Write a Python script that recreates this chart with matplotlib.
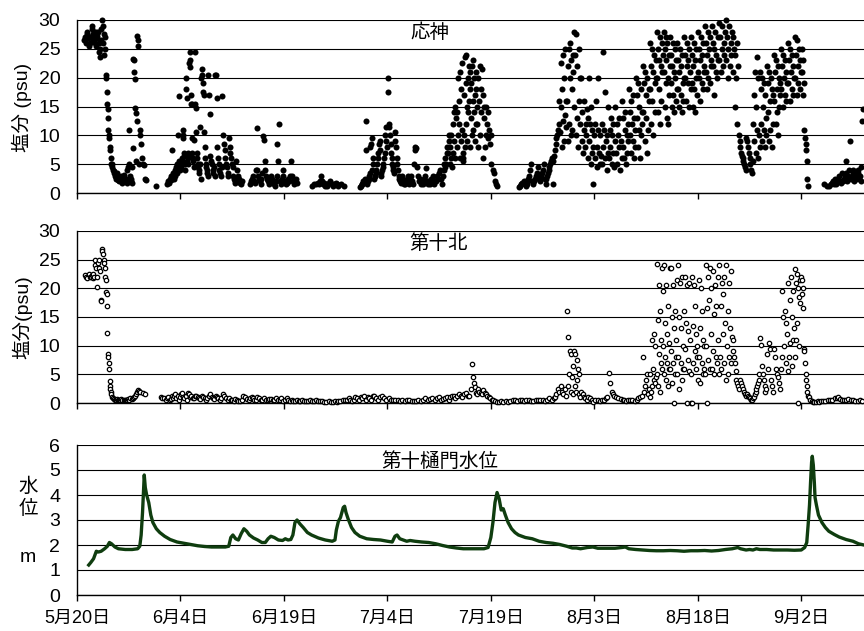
import numpy as np
import matplotlib
matplotlib.use("Agg")
import matplotlib.pyplot as plt

plt.rcParams["font.family"] = ["Liberation Sans", "Noto Sans CJK JP"]

# days counted from 5/20
tick_days = [0, 15, 30, 45, 60, 75, 90, 105]
tick_labels = ["5月20日", "6月4日", "6月19日", "7月4日", "7月19日", "8月3日", "8月18日", "9月2日"]

# 応神 salinity, grouped by day
oujin_day = [1, 2, 3, 4, 5, 6, 7, 8, 9, 11, 13, 14, 15, 16, 17, 18, 19, 20, 21, 22, 23,
             25, 26, 27, 28, 29, 30, 31, 34, 35, 36, 37, 38, 41, 42, 43, 44, 45, 46, 47,
             48, 49, 50, 51, 52, 53, 54, 55, 56, 57, 58, 59, 60, 64, 65, 66, 67, 68, 69,
             70, 71, 72, 73, 74, 75, 76, 77, 78, 79, 80, 81, 82, 83, 84, 85, 86, 87, 88,
             89, 90, 91, 92, 93, 94, 95, 96, 97, 98, 99, 100, 101, 102, 103, 104, 105,
             108, 109, 110, 111, 112, 113]
oujin_psu = [
    [26.5, 27, 26, 27.5, 28, 26.8, 25.5, 27, 26],
    [27, 28.5, 29, 27.5, 26.5, 28, 27, 26, 25.5, 28, 27.2, 26.8],
    [28, 26, 24.5, 23.5, 25, 26.5, 28.5, 30, 29, 26, 24, 27.5],
    [27, 25, 20.5, 20, 17.5, 15.5, 14.5, 13, 11, 10, 9.5, 8, 7.5, 6, 5],
    [5, 4.5, 4, 3.8, 3.5, 3, 2.8, 2.5, 3, 3.5, 2.2],
    [2.5, 2, 2.3, 3, 2, 1.8, 2.5, 2.2, 3.2, 2],
    [2, 2.5, 1.8, 4, 4.5, 5, 11, 3, 2.5, 2, 1.8],
    [4.5, 7.8, 23.2, 23, 21, 19.7, 14.8, 13.8, 5.5, 12.5, 27.3, 26.5, 25.5, 5],
    [11, 10, 8.5, 6, 5, 4.8, 2.5, 2.2],
    [1.2],
    [1.5, 2, 1.8, 2.5, 3, 2.2, 7.5, 3.5],
    [2.5, 3, 4, 4.5, 3.5, 5, 10, 16.8, 5.5, 4],
    [4.5, 5, 6, 5.5, 10, 11, 9.5, 6.5, 7, 5, 4, 20, 18, 16.5, 5.5],
    [5, 6, 7, 6.5, 22.5, 24.5, 23, 21.8, 15.5, 17, 15.5, 9.5, 7, 6, 5.5, 4.5, 9.2],
    [24.5, 15.5, 14.8, 10.5, 7, 6, 5, 4.5, 4, 3.5, 11.5, 5, 2.5],
    [20, 20.5, 21.5, 19, 17.5, 17, 10.5, 8, 6, 5, 4.5, 4, 3.5, 3],
    [20.5, 17, 13.7, 6.5, 5.5, 5, 4, 3.5, 4.5, 3],
    [20.5, 20.5, 16.5, 8, 6, 5, 4, 3.5, 3, 4.5],
    [16.8, 10, 8.5, 7.5, 6, 5, 4.5, 3.5, 3],
    [9.5, 8, 7, 6, 5, 4.5, 3, 2.5, 2, 1.8],
    [5.5, 4, 3, 2.5, 2, 1.8, 1.5, 2],
    [1.5, 2, 2.5, 3, 2, 1.8, 4],
    [11.3, 4, 3, 2.5, 2, 1.5, 2.5, 3.5, 9.8],
    [9.2, 5.5, 4, 3, 2.5, 2, 1.5, 2],
    [3, 2.5, 2, 1.5, 1.2, 2, 3],
    [8.5, 5.5, 12, 2, 1.5, 2.5, 3, 4],
    [2, 1.5, 1.8, 2.5, 2, 3],
    [5.5, 3, 2, 1.5, 2, 2.5, 1.8],
    [1.2, 1.5, 1.5, 1.8],
    [1.5, 2, 3, 2, 1.5, 1.8, 1.2],
    [1.5, 1.2, 1.8, 2, 1.5],
    [1.2, 1.5, 1.8, 1.5, 1.2],
    [1.5, 1.2],
    [1, 1.2, 1.5, 1.5, 2, 2, 2.5, 12.5, 7.5],
    [1.5, 2, 2.5, 2.5, 3, 3.5, 8, 8.5, 9.5, 4, 5, 6],
    [2.5, 3, 3, 3.5, 4, 5, 6, 7, 8.5, 9, 7.5],
    [3, 3.5, 4, 4.5, 5, 6, 7, 10, 11.5, 9, 8],
    [20, 17.5, 12, 11.5, 10, 8.5, 7, 6, 5, 4.5, 4, 3.5],
    [10.5, 9, 8, 6, 5, 4, 3, 2.5, 2, 1.8],
    [3, 2.5, 2, 1.5, 1.5, 2, 2.5, 3],
    [2, 1.5, 2.5, 3, 2, 1.5, 5, 7.5],
    [8, 7.8, 4.5, 3, 2, 2.5, 1.5, 2],
    [2, 1.5, 2.5, 3, 4.3, 2, 1.5],
    [2, 1.5, 2.5, 2, 3, 1.5, 2],
    [2, 3, 2.5, 3.5, 4, 2.5, 1.5],
    [3, 4, 5, 4.5, 6, 5, 7, 8, 7, 9, 10],
    [5, 8, 6, 10, 4.5, 12, 7, 14, 9, 15, 6, 13],
    [8, 14, 10, 20, 12, 16, 6, 21, 9, 18, 11, 22.5, 5.5, 7],
    [6, 17, 10, 23.5, 8, 19, 12, 24, 9, 15, 20, 14, 22, 16, 21, 18],
    [8, 19, 13, 22, 10, 16, 23, 11, 20, 14, 9, 17, 21, 12, 18, 15],
    [12, 20, 8, 16, 22, 10, 18, 14, 21.5, 6, 17, 15],
    [13, 8, 15, 10, 12, 14, 9.5, 11, 8.5, 10],
    [5, 4, 3.5, 2, 1.5, 1.2],
    [1, 1.2, 1.5, 1.8, 2, 1.5],
    [1.2, 1.5, 2, 2.5, 3, 4, 5, 2],
    [1.5, 2, 2.5, 3, 3.5, 4.5, 3],
    [2, 2.5, 3, 3.5, 4, 5, 2.5, 1.5],
    [2.5, 3, 3.5, 4, 4.5, 5, 5.5, 6, 1.5],
    [5.5, 6.5, 7.5, 8.5, 9.5, 10, 11, 12, 16],
    [10.5, 15, 22.5, 8, 18, 12.5, 24, 9, 20, 13.5, 25, 11.5, 16],
    [16, 22, 9, 25, 12, 20, 26, 10, 23, 18, 11, 21, 24],
    [28, 15, 24, 10, 27.5, 13, 22, 8, 25, 16, 12, 20],
    [20, 9, 14, 7, 16, 11, 8, 12, 10, 14.5],
    [13, 6, 20, 9, 12, 5, 15, 7, 11, 1.5, 8, 10],
    [12, 6, 16, 8, 4.5, 11, 20, 7, 10, 5, 6.5],
    [12, 5, 24.5, 8, 11, 6, 17.5, 9, 4, 10, 7],
    [15, 6, 11, 8, 13, 5, 10, 7, 12, 4.5, 9],
    [15, 7, 12, 5, 10, 8, 13, 4, 9, 6],
    [16, 8, 13, 6, 11, 14, 5, 10, 7, 12, 9],
    [18, 10, 14, 7, 16, 12, 9, 17, 6, 13, 8, 11],
    [20, 13, 17, 8, 19, 11, 15, 6, 18, 10, 14, 12],
    [22, 14, 19, 9, 21, 13, 17, 7, 20, 11, 16, 18],
    [26, 18, 22, 12, 25, 16, 21, 10, 24, 19, 14, 23, 20],
    [28, 20, 25, 14, 23, 18, 27, 12, 22, 16, 26, 21, 24],
    [28, 21, 25, 15, 27, 19, 23, 13, 26, 20, 12, 24, 17, 22],
    [27, 19, 24, 15, 22, 26, 17, 21, 14, 25, 20, 16, 23, 18],
    [26, 18, 23, 15, 21, 25, 17, 22, 14, 24, 19, 16, 20],
    [27, 20, 24, 16, 22, 26, 19, 23, 15, 25, 21, 18],
    [27, 19, 24, 15, 22, 26, 18, 23, 14, 25, 20, 17, 21],
    [28, 20, 25, 16, 23, 27, 19, 24, 18, 26, 21, 22],
    [29, 21, 26, 18, 24, 28, 20, 25, 19, 27, 22, 23],
    [29, 22, 26, 17, 25, 28, 21, 24, 20, 27, 23],
    [29.5, 23, 27, 21, 25, 29, 22, 26, 24, 28],
    [30, 23, 27, 20, 25, 29, 22, 26, 24, 28],
    [27, 21, 25, 15, 24, 20, 26, 12, 22, 10],
    [9, 8, 7, 6.5, 6, 5.5, 5, 4.5, 4],
    [9.5, 9, 8, 7, 6, 5, 4, 3.5, 5.5],
    [12, 17, 9, 21, 7, 15, 11, 23.5, 6, 20, 10, 8],
    [21, 12, 18, 9, 20, 15, 11, 19, 8, 17, 13, 10],
    [22, 14, 19, 9, 21, 16, 11, 20, 8, 18, 12, 17],
    [24, 16, 21, 12, 23, 18, 14, 22, 10, 20, 15, 19, 17],
    [25, 18, 22, 15, 24, 20, 17, 23, 16, 21, 19],
    [26, 19, 23, 16, 25, 21, 18, 24, 17, 22, 20],
    [27, 20, 24, 17, 26.5, 22, 19, 25, 18, 23, 21],
    [25, 21, 23, 17, 19, 11, 9.5, 8.5, 7.5, 5.5, 2.5, 1.3],
    [1.5, 1.2],
    [1.2, 1.5, 1.8, 2, 1.5, 2.5],
    [1.5, 2, 2.5, 3, 2, 1.8, 3.5],
    [2, 2.5, 3, 3.5, 5.5, 2, 3, 4],
    [9, 2.5, 3, 3.5, 4, 2, 3, 2.5],
    [3, 3.5, 4, 2.5, 3, 4.5, 2, 12.5, 14.5],
]

# 第十北 salinity, grouped by day
daiju_day = [1, 2, 3, 4, 5, 6, 7, 8, 9] + list(range(12, 114))
daiju_psu = [
    [22.3, 22, 21.8, 22.5, 22],
    [22, 22.3, 22.5, 21.8, 22, 25, 24, 23.5, 22, 20.3],
    [24.5, 25, 23.5, 23, 18, 17.8, 26.8, 26.5, 26, 25, 24.5],
    [23.5, 22, 21.5, 19.3, 19, 17, 12.2, 8.5, 8, 7, 6, 3.8, 3, 2.5, 2, 1.5],
    [1, 0.8, 0.7, 0.6, 0.5, 0.7, 0.6],
    [0.5, 0.6, 0.7, 0.5, 0.6, 0.5],
    [0.6, 0.5, 0.7, 0.6, 0.8, 0.7],
    [0.8, 0.9, 1, 1.2, 1.5, 2, 2.3, 2.1],
    [2, 1.8, 1.6],
    [1, 0.8, 0.9, 0.6],                 # 12
    [0.8, 1, 0.5, 0.7, 1.2, 0.9],
    [1.2, 1.5, 0.8, 1.3, 0.6, 1],
    [1.5, 1.8, 1, 0.8, 1.2, 0.6],
    [1.8, 1.5, 1, 1.2, 0.8, 0.9],
    [1.2, 1.3, 1, 0.8, 0.7],
    [1.2, 1, 0.8, 0.6, 0.9],
    [1.3, 1.5, 1, 0.8, 0.7],
    [1.2, 1, 0.8, 0.6, 0.9],            # 20
    [1.5, 1.2, 0.8, 0.6],
    [0.8, 0.6, 0.5, 0.4, 0.7],
    [0.5, 0.4, 0.3, 0.6],
    [1.2, 1, 0.7, 0.5],
    [0.9, 1, 0.8, 0.6, 0.5],
    [1, 0.8, 0.6, 0.5],
    [0.8, 0.6, 0.5, 0.7],
    [0.7, 0.6, 0.5, 0.8],
    [0.6, 0.5, 0.8, 0.4],
    [0.5, 0.8, 0.6, 0.4],               # 30
    [0.6, 0.4, 0.3, 0.5],
    [0.3, 0.4, 0.5, 0.3],
    [0.4, 0.3, 0.5],
    [0.3, 0.4, 0.5, 0.3],
    [0.4, 0.3, 0.2],
    [0.2, 0.3, 0.2],
    [0.2, 0.3, 0.2, 0.3],
    [0.3, 0.5, 0.6],
    [0.5, 0.8, 0.6, 0.4],
    [0.6, 1, 0.8, 0.5],                 # 40
    [1, 0.8, 1.2, 0.6],
    [1.1, 0.9, 0.6, 1.3],
    [1.3, 0.8, 0.5, 1],
    [1.2, 0.9, 0.6],
    [0.8, 0.6, 0.5],
    [0.6, 0.5, 0.4],
    [0.5, 0.4, 0.6],
    [0.5, 0.3, 0.4],
    [0.4, 0.6, 0.3],
    [0.5, 0.8, 0.6],                    # 50
    [0.7, 0.9, 0.5],
    [0.8, 1, 0.6],
    [0.7, 0.8, 1, 0.6],
    [1, 1.2, 1.3, 0.8],
    [1.2, 1.5, 1.3, 1],
    [1.5, 1.8, 1.3, 1.2],
    [2.5, 6.8, 4.5, 3.5, 2.8, 1.8, 1.5],
    [2.5, 2, 1.8, 1.5, 2.2],
    [1.8, 1.5, 1.2, 1, 0.8],
    [0.6, 0.5, 0.3, 0.2],               # 60
    [0.2, 0.3, 0.2],
    [0.3, 0.2, 0.4],
    [0.5, 0.6, 0.4],
    [0.6, 0.5, 0.4],
    [0.5, 0.6, 0.4],
    [0.4, 0.5, 0.6],
    [0.5, 0.6, 0.4],
    [0.6, 0.8, 0.5],
    [0.8, 1, 1.5, 2.5, 2],
    [3, 2, 1.5, 2.5, 1.2],              # 70
    [16, 3, 11.5, 5, 9, 2, 8.5, 4.5, 6.5, 1.5],
    [9, 3, 8.5, 2, 7.5, 4, 6, 1.5, 5, 1],
    [2, 1.5, 1, 0.8, 0.6],
    [1, 0.8, 0.5, 0.2],
    [0.6, 0.5, 0.4],
    [0.5, 0.6, 0.8, 1],
    [5.3, 3.5, 2, 1.5, 1.2],
    [1, 0.8, 0.7],
    [0.6, 0.5, 0.4, 0.5],
    [0.5, 0.6, 0.4],                    # 80
    [0.6, 0.8, 1, 1.2],
    [8, 2, 3, 4, 5, 1.5, 2.5],
    [1, 5, 2, 11, 3, 6, 4, 12, 3.5, 10, 4.5],
    [24.3, 5, 14.5, 3, 20.5, 8.5, 2, 16, 7, 11, 6, 23.5, 10, 19.5],
    [5, 24, 8, 14, 4, 20.5, 7, 12, 3, 17, 6, 10.5, 23.5],
    [6, 23.5, 9, 15, 3.5, 20.5, 7, 13, 0, 16, 5, 11, 8, 21.5],
    [5, 24, 8, 15, 2.5, 21, 7, 13, 4, 22, 6, 10, 16],
    [6, 22, 9.5, 14, 0, 20.5, 7.5, 12.5, 5.5, 21, 11, 0],
    [5, 22, 0, 13.5, 7, 20.5, 9, 17, 6, 12, 10, 8],
    [4, 21.5, 8, 13, 3.5, 20, 7, 16, 5, 11, 10, 6],   # 90
    [5, 24, 10, 16.5, 0, 22, 7.5, 18, 6, 23.5, 12, 20],
    [6, 23, 9, 15.5, 5, 20.5, 8, 17, 7, 22, 11],
    [5, 24, 8, 17, 6, 21, 12, 19, 7, 22, 14],
    [4, 24, 10, 16, 5, 21, 8, 13, 7, 23, 11.5],
    [11, 9, 8, 7, 5.5, 4, 3.5, 3, 2.5],
    [4, 3.5, 3, 2.5, 2, 1.5, 1.2],
    [1.5, 1.2, 1, 0.8, 0.6, 0.5],
    [0.8, 1, 1.5, 2, 2.5, 3, 3.5, 4, 5],
    [11.4, 10.2, 6.5, 5, 4, 3, 2, 2.5],
    [8.5, 6, 10.5, 9.5, 4, 3, 2],       # 100
    [9.5, 8, 6, 5, 4.5, 3.5, 2.5],
    [6, 19.5, 8, 15, 10, 16, 7, 14, 12],
    [5.5, 21, 8, 18, 10.5, 22, 6.5, 15, 11, 19.5, 13],
    [8, 23.3, 11, 21, 14, 22.5, 0, 20, 10, 18.5, 17.5, 21.5, 22],
    [21.5, 19, 20, 16.5, 9.5, 9, 7, 5, 4, 3, 2, 1.2],
    [1, 0.5, 0.3, 0.2, 0.2],
    [0.2, 0.3, 0.2, 0.3],
    [0.3, 0.4, 0.5],
    [0.5, 0.6, 0.8],
    [0.8, 1, 0.7, 0.6],                 # 110
    [0.6, 0.5, 0.7],
    [0.5, 0.6, 0.4],
    [0.4, 0.5, 0.3],
]

# 第十樋門 water level (m)
level_day = [1.7, 2.0, 2.4, 2.8, 3.1, 3.5, 4.0, 4.4, 4.7, 5.0, 5.5, 6.0, 7.0, 8.0, 8.8,
             9.1, 9.3, 9.5, 9.65, 9.75, 9.9, 10.1, 10.4, 10.7, 11.0, 11.5, 12.0, 12.7,
             13.5, 14.5, 15.5, 16.5, 17.5, 18.5, 19.5, 20.5, 21.5, 22.0, 22.3, 22.6,
             23.0, 23.4, 23.8, 24.2, 24.6, 25.0, 25.6, 26.2, 26.8, 27.3, 27.7, 28.1,
             28.6, 29.2, 29.8, 30.2, 30.6, 31.0, 31.3, 31.6, 31.9, 32.3, 32.8, 33.4,
             34.0, 35.0, 36.0, 37.0, 37.4, 37.6, 37.9, 38.2, 38.6, 38.8, 39.0, 39.3,
             39.8, 40.3, 41.0, 42.0, 43.0, 44.0, 45.0, 45.7, 46.1, 46.4, 46.8, 47.3,
             47.8, 48.3, 49.0, 50.0, 51.0, 52.0, 53.0, 54.0, 55.0, 56.0, 57.0, 58.0,
             59.0, 59.6, 60.0, 60.3, 60.6, 60.9, 61.2, 61.5, 61.8, 62.1, 62.5, 63.0,
             63.5, 64.0, 65.0, 66.0, 67.0, 68.0, 69.0, 70.0, 71.0, 71.8, 72.4, 73.0,
             74.0, 74.8, 75.5, 76.5, 77.2, 78.0, 79.0, 79.5, 80.0, 81.0, 82.0, 83.0,
             84.0, 85.0, 86.0, 87.0, 88.0, 89.0, 90.0, 91.0, 92.0, 93.0, 94.0, 95.0,
             95.8, 96.2, 97.0, 97.5, 98.0, 98.5, 99.0, 100.0, 101.0, 102.0, 103.0,
             104.0, 105.0, 105.5, 105.8, 106.0, 106.2, 106.35, 106.5, 106.6, 106.75,
             106.9, 107.0, 107.2, 107.5, 108.0, 108.5, 109.0, 109.8, 110.5, 111.5,
             112.5, 113.3, 114.1]
level_m = [1.2, 1.3, 1.45, 1.75, 1.72, 1.75, 1.85, 1.95, 2.1, 2.05, 1.92, 1.85, 1.82,
           1.82, 1.85, 1.95, 2.4, 3.3, 4.2, 4.8, 4.3, 4.0, 3.7, 3.2, 2.9, 2.65, 2.5,
           2.35, 2.22, 2.12, 2.07, 2.02, 1.97, 1.94, 1.92, 1.92, 1.92, 1.95, 2.3, 2.4,
           2.25, 2.2, 2.45, 2.65, 2.55, 2.4, 2.28, 2.2, 2.1, 2.1, 2.25, 2.35, 2.3, 2.2,
           2.18, 2.25, 2.2, 2.22, 2.4, 2.9, 3.0, 2.85, 2.7, 2.5, 2.4, 2.28, 2.2, 2.15,
           2.2, 2.6, 2.95, 3.1, 3.5, 3.55, 3.3, 3.05, 2.7, 2.5, 2.35, 2.25, 2.22, 2.2,
           2.15, 2.12, 2.35, 2.4, 2.25, 2.2, 2.15, 2.18, 2.15, 2.12, 2.1, 2.05, 1.98,
           1.92, 1.88, 1.85, 1.85, 1.85, 1.85, 1.9, 2.3, 2.9, 3.7, 4.1, 3.85, 3.4, 3.45,
           3.2, 2.9, 2.65, 2.5, 2.4, 2.3, 2.25, 2.15, 2.1, 2.07, 2.02, 1.95, 1.88, 1.88,
           1.85, 1.9, 1.92, 1.87, 1.87, 1.87, 1.87, 1.9, 1.92, 1.85, 1.82, 1.8, 1.78,
           1.77, 1.77, 1.78, 1.77, 1.75, 1.77, 1.77, 1.78, 1.76, 1.78, 1.82, 1.85, 1.9,
           1.85, 1.8, 1.82, 1.8, 1.85, 1.82, 1.82, 1.8, 1.8, 1.8, 1.79, 1.8, 1.9, 2.1,
           2.8, 3.6, 4.5, 5.3, 5.55, 5.2, 4.5, 3.9, 3.6, 3.2, 2.9, 2.7, 2.55, 2.42, 2.32,
           2.22, 2.15, 2.05, 2.0]

X_MAX = 114.1
FS = 14


def spread(days, groups):
    # put each day's readings at equal steps through that day
    t, v = [], []
    for d, vals in zip(days, groups):
        n = len(vals)
        for k, val in enumerate(vals):
            t.append(d + (k + 0.5) / n)
            v.append(val)
    return np.array(t), np.array(v)


def style_axis(ax, ymax, ystep, show_labels):
    ax.set_xlim(0, X_MAX)
    ax.set_ylim(0, ymax)
    ax.set_yticks(np.arange(0, ymax + 0.01, ystep))
    ax.yaxis.grid(True, color="black", linewidth=0.8)
    ax.set_axisbelow(True)
    for side in ["top", "right"]:
        ax.spines[side].set_visible(False)
    for side in ["left", "bottom"]:
        ax.spines[side].set_color("black")
        ax.spines[side].set_linewidth(1.0)
    ax.set_xticks(tick_days)
    if show_labels:
        ax.set_xticklabels(tick_labels)
    else:
        ax.set_xticklabels([])
    ax.tick_params(axis="x", direction="out", length=4, width=1, pad=7, labelsize=13)
    ax.tick_params(axis="y", length=0, pad=12, labelsize=FS)


fig = plt.figure(figsize=(8.64, 6.31), dpi=100)
left = 77 / 864
width = 1 - left

ax1 = fig.add_axes([left, 1 - 193 / 631, width, 173 / 631])
ax2 = fig.add_axes([left, 1 - 403 / 631, width, 172 / 631])
ax3 = fig.add_axes([left, 1 - 595 / 631, width, 150 / 631])

t1, s1 = spread(oujin_day, oujin_psu)
ax1.scatter(t1, s1, s=19, color="black", linewidths=0, zorder=3, clip_on=False)
style_axis(ax1, 30, 5, False)
ax1.text(0.449, 0.925, "応神", transform=ax1.transAxes, ha="center", va="center", fontsize=FS)

t2, s2 = spread(daiju_day, daiju_psu)
ax2.scatter(t2, s2, s=10, facecolors="white", edgecolors="black", linewidths=0.9, zorder=3,
            clip_on=False)
style_axis(ax2, 30, 5, False)
ax2.text(0.459, 0.924, "第十北", transform=ax2.transAxes, ha="center", va="center", fontsize=FS)

ax3.plot(level_day, level_m, color="#0f3d0f", linewidth=2.4, zorder=3)
style_axis(ax3, 6, 1, True)
ax3.text(0.461, 0.887, "第十樋門水位", transform=ax3.transAxes, ha="center", va="center",
         fontsize=FS)

# y labels
fig.text(22 / 864, 1 - 107 / 631, "塩分 (psu)", rotation=90, ha="center", va="center", fontsize=FS)
fig.text(22 / 864, 1 - 317 / 631, "塩分(psu)", rotation=90, ha="center", va="center", fontsize=FS)
fig.text(28 / 864, 1 - 487 / 631, "水", ha="center", va="center", fontsize=FS)
fig.text(28 / 864, 1 - 509 / 631, "位", ha="center", va="center", fontsize=FS)
fig.text(28 / 864, 1 - 558 / 631, "m", ha="center", va="center", fontsize=FS)

fig.savefig("out.png", dpi=100)
